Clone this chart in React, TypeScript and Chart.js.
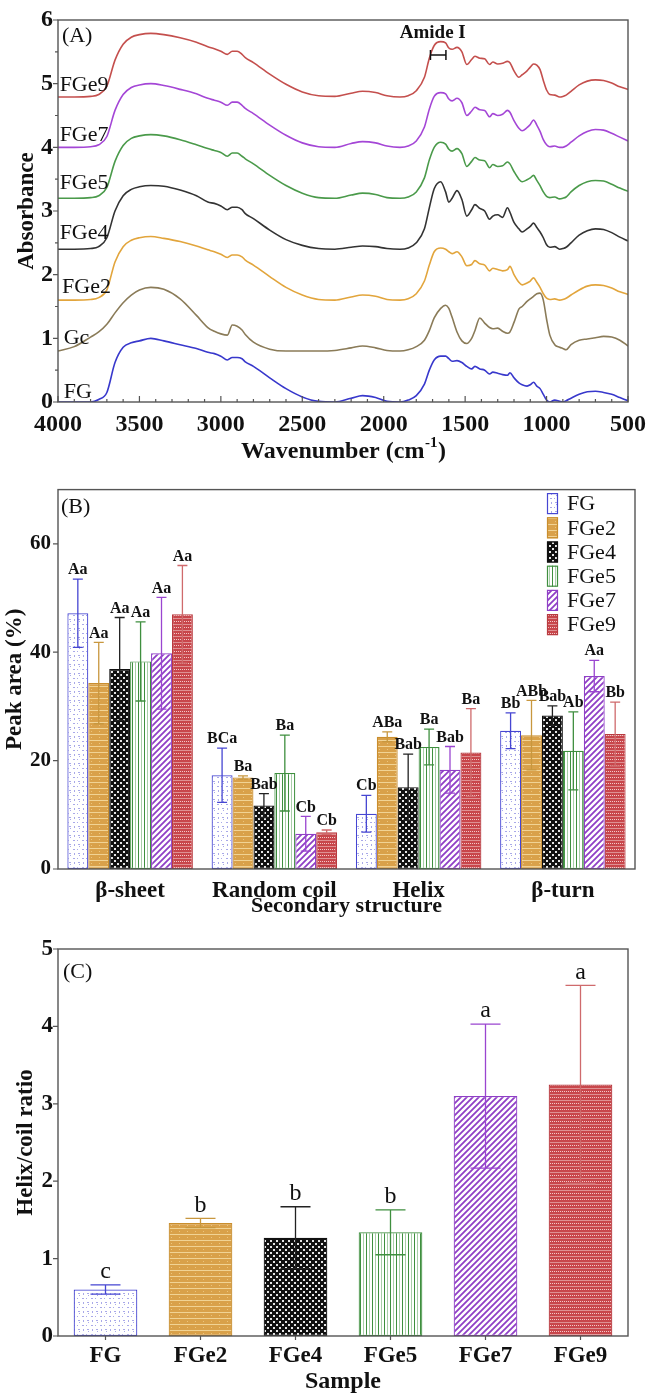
import React, { useEffect, useRef } from 'react';
import { Chart, registerables } from 'chart.js';

Chart.register(...registerables);

const FONT = "'Liberation Serif', 'Times New Roman', serif";

// ---------------- Panel A: FTIR spectra ----------------
const wavenumbers = [
  4000, 3900, 3800, 3750, 3700, 3650, 3600, 3550, 3500, 3430,
  3350, 3250, 3150, 3080, 3040, 3000, 2960, 2930, 2900, 2870,
  2850, 2800, 2700, 2600, 2500, 2400, 2300, 2200, 2130, 2050,
  1980, 1900, 1850, 1800, 1750, 1720, 1690, 1650, 1620, 1600,
  1580, 1550, 1520, 1490, 1460, 1440, 1410, 1380, 1350, 1330,
  1300, 1270, 1240, 1225, 1200, 1170, 1150, 1120, 1100, 1080,
  1060, 1040, 1020, 1000, 980, 950, 920, 900, 880, 850,
  800, 750, 700, 650, 600, 550, 500,
];

const absFG = [
  0.00, 0.00, 0.00, 0.04, 0.15, 0.62, 0.86, 0.93, 0.96, 1.00,
  0.96, 0.90, 0.84, 0.78, 0.76, 0.72, 0.66, 0.70, 0.70, 0.68,
  0.63, 0.56, 0.38, 0.21, 0.08, 0.01, 0.00, 0.06, 0.10, 0.07,
  0.01, 0.00, 0.03, 0.10, 0.28, 0.50, 0.66, 0.72, 0.72, 0.68,
  0.64, 0.65, 0.62, 0.56, 0.52, 0.56, 0.52, 0.50, 0.44, 0.47,
  0.45, 0.43, 0.42, 0.46, 0.38, 0.30, 0.27, 0.25, 0.27, 0.31,
  0.25, 0.21, 0.12, 0.03, 0.00, 0.03, 0.01, 0.00, 0.02, 0.06,
  0.12, 0.16, 0.17, 0.15, 0.12, 0.07, 0.02,
];
const absGc = [
  0.80, 0.87, 1.02, 1.10, 1.22, 1.40, 1.56, 1.68, 1.76, 1.80,
  1.77, 1.62, 1.36, 1.17, 1.11, 1.07, 1.05, 1.21, 1.19, 1.13,
  1.06, 0.94, 0.83, 0.80, 0.80, 0.80, 0.81, 0.85, 0.88, 0.85,
  0.81, 0.80, 0.82, 0.87, 0.97, 1.12, 1.32, 1.47, 1.52, 1.47,
  1.33, 1.10, 0.96, 0.92, 1.00, 1.12, 1.32, 1.24, 1.17, 1.15,
  1.16, 1.11, 1.08, 1.10, 1.25, 1.46, 1.50, 1.58, 1.62, 1.66,
  1.70, 1.71, 1.60, 1.30, 1.05, 0.90, 0.86, 0.84, 0.82, 0.90,
  0.97, 0.99, 1.01, 1.03, 1.02, 0.97, 0.88,
];
const absFGe2 = [
  1.60, 1.60, 1.61, 1.64, 1.76, 2.20, 2.44, 2.54, 2.58, 2.60,
  2.57, 2.52, 2.45, 2.39, 2.36, 2.32, 2.27, 2.31, 2.31, 2.28,
  2.23, 2.15, 1.97, 1.80, 1.68, 1.61, 1.60, 1.65, 1.68, 1.66,
  1.61, 1.60, 1.62, 1.70, 1.90, 2.15, 2.36, 2.42, 2.40, 2.36,
  2.33, 2.36, 2.28, 2.14, 2.16, 2.22, 2.17, 2.15, 2.06, 2.10,
  2.08, 2.06, 2.08, 2.13, 2.00, 1.88, 1.84, 1.87, 1.90, 1.95,
  1.88, 1.80, 1.70, 1.63, 1.61, 1.62, 1.60, 1.61, 1.63, 1.68,
  1.76, 1.82, 1.84, 1.83, 1.79, 1.73, 1.69,
];
const absFGe4 = [
  2.40, 2.40, 2.41, 2.44, 2.58, 3.00, 3.24, 3.34, 3.38, 3.40,
  3.39, 3.33, 3.24, 3.14, 3.12, 3.08, 3.02, 3.06, 3.06, 3.02,
  2.96, 2.88, 2.70, 2.55, 2.46, 2.41, 2.40, 2.43, 2.45, 2.44,
  2.41, 2.40, 2.42, 2.50, 2.72, 3.05, 3.35, 3.46, 3.30, 3.14,
  3.20, 3.32, 3.18, 2.92, 3.02, 3.10, 3.04, 3.00, 2.87, 2.92,
  2.94, 2.90, 3.05, 2.98, 2.82, 2.72, 2.67, 2.72, 2.76, 2.81,
  2.74, 2.67, 2.58, 2.47, 2.43, 2.44, 2.40, 2.41, 2.43, 2.50,
  2.62, 2.69, 2.72, 2.71, 2.66, 2.59, 2.53,
];
const absFGe5 = [
  3.20, 3.20, 3.21, 3.24, 3.37, 3.78, 4.03, 4.14, 4.18, 4.20,
  4.18, 4.12, 4.04, 3.98, 3.95, 3.92, 3.86, 3.91, 3.91, 3.86,
  3.82, 3.74, 3.56, 3.40, 3.28, 3.21, 3.20, 3.25, 3.28, 3.26,
  3.21, 3.20, 3.22, 3.30, 3.52, 3.80, 4.00, 4.08, 4.05, 3.97,
  3.94, 3.98, 3.90, 3.70, 3.78, 3.84, 3.80, 3.79, 3.68, 3.73,
  3.70, 3.71, 3.77, 3.74, 3.62, 3.50, 3.46, 3.49, 3.52, 3.56,
  3.48, 3.40, 3.30, 3.23, 3.21, 3.22, 3.19, 3.20, 3.22, 3.30,
  3.40, 3.46, 3.48, 3.47, 3.42, 3.36, 3.31,
];
const absFGe7 = [
  4.00, 4.00, 4.01, 4.04, 4.17, 4.58, 4.83, 4.94, 4.98, 5.00,
  4.97, 4.91, 4.84, 4.77, 4.74, 4.71, 4.66, 4.71, 4.71, 4.66,
  4.61, 4.53, 4.35, 4.19, 4.07, 4.01, 4.00, 4.06, 4.09, 4.07,
  4.02, 4.00, 4.02, 4.10, 4.32, 4.60, 4.80, 4.86, 4.84, 4.76,
  4.73, 4.77, 4.70, 4.50, 4.57, 4.63, 4.59, 4.58, 4.48, 4.53,
  4.50, 4.52, 4.58, 4.55, 4.42, 4.30, 4.26, 4.31, 4.36, 4.43,
  4.35, 4.25, 4.12, 4.04, 4.01, 4.02, 4.00, 4.00, 4.02, 4.08,
  4.18, 4.25, 4.28, 4.27, 4.22, 4.16, 4.10,
];
const absFGe9 = [
  4.79, 4.79, 4.80, 4.83, 4.96, 5.37, 5.62, 5.73, 5.77, 5.79,
  5.77, 5.72, 5.65, 5.58, 5.55, 5.51, 5.46, 5.51, 5.51, 5.46,
  5.41, 5.33, 5.15, 4.99, 4.87, 4.81, 4.80, 4.85, 4.88, 4.86,
  4.81, 4.79, 4.81, 4.89, 5.10, 5.40, 5.60, 5.66, 5.64, 5.56,
  5.54, 5.57, 5.50, 5.30, 5.38, 5.43, 5.40, 5.39, 5.30, 5.34,
  5.31, 5.32, 5.35, 5.33, 5.20, 5.10, 5.14, 5.20, 5.26, 5.31,
  5.29, 5.22, 5.05, 4.90, 4.83, 4.82, 4.79, 4.80, 4.82, 4.88,
  4.98, 5.04, 5.06, 5.05, 5.01, 4.95, 4.91,
];

const spectrumNames = ['FG', 'Gc', 'FGe2', 'FGe4', 'FGe5', 'FGe7', 'FGe9'];
const spectrumValues = [absFG, absGc, absFGe2, absFGe4, absFGe5, absFGe7, absFGe9];
const spectrumColors = ['#3838cc', '#8a7b58', '#e2a53c', '#333333', '#4a9a4a', '#a446d6', '#c44f4d'];
// label anchors in data units (wavenumber, absorbance)
const spectrumLabelAnchors = [
  [3965, 0.15], [3965, 1.0], [3975, 1.81], [3990, 2.65], [3990, 3.43], [3990, 4.19], [3990, 4.98],
];
const xMajorA = [500, 1000, 1500, 2000, 2500, 3000, 3500, 4000];

// ---------------- Panel B: secondary structure ----------------
const structureCategories = ['β-sheet', 'Random coil', 'Helix', 'β-turn'];
const sampleNames = ['FG', 'FGe2', 'FGe4', 'FGe5', 'FGe7', 'FGe9'];
const peakFG = [47.2, 17.3, 10.2, 25.5];
const peakFGe2 = [34.3, 16.9, 24.4, 24.7];
const peakFGe4 = [36.9, 11.7, 15.1, 28.3];
const peakFGe5 = [38.3, 17.7, 22.5, 21.8];
const peakFGe7 = [39.8, 6.5, 18.3, 35.6];
const peakFGe9 = [47.0, 6.8, 21.5, 24.9];
const errFG = [6.3, 5.0, 3.4, 3.3];
const errFGe2 = [7.5, 0.3, 0.9, 6.4];
const errFGe4 = [9.5, 2.2, 6.1, 1.8];
const errFGe5 = [7.3, 7.0, 3.3, 7.2];
const errFGe7 = [10.3, 3.2, 4.3, 2.9];
const errFGe9 = [9.0, 0.4, 8.1, 5.9];
const lettersFG = ['Aa', 'BCa', 'Cb', 'Bb'];
const lettersFGe2 = ['Aa', 'Ba', 'ABa', 'ABb'];
const lettersFGe4 = ['Aa', 'Bab', 'Bab', 'Bab'];
const lettersFGe5 = ['Aa', 'Ba', 'Ba', 'Ab'];
const lettersFGe7 = ['Aa', 'Cb', 'Bab', 'Aa'];
const lettersFGe9 = ['Aa', 'Cb', 'Ba', 'Bb'];
const yTicksB = [0, 20, 40, 60];

// ---------------- Panel C: helix/coil ratio ----------------
const ratioValues = [0.60, 1.46, 1.27, 1.34, 3.10, 3.25];
const ratioErr = [0.06, 0.06, 0.40, 0.29, 0.93, 1.28];
const ratioLetters = ['c', 'b', 'b', 'b', 'a', 'a'];

// ---------------- styles ----------------
const sampleBorder = ['#4646d2', '#c98e2e', '#111111', '#3f8f3f', '#8f3fc6', '#b83b40'];
const sampleErrColor = ['#4646d2', '#c8973e', '#222222', '#3f8f3f', '#9a45d0', '#cf6a6c'];

function makePattern(name: string): any {
  const c = document.createElement('canvas');
  const g = c.getContext('2d') as CanvasRenderingContext2D;
  if (name === 'FG') {
    c.width = 9; c.height = 9;
    g.fillStyle = '#ffffff'; g.fillRect(0, 0, 9, 9);
    g.fillStyle = '#a9a9e8';
    g.fillRect(1, 1, 2, 1); g.fillRect(5, 1, 1, 1); g.fillRect(2, 5, 1, 2); g.fillRect(6, 5, 2, 1); g.fillRect(7, 7, 1, 1);
  } else if (name === 'FGe2') {
    c.width = 8; c.height = 6;
    g.fillStyle = '#d9a14a'; g.fillRect(0, 0, 8, 6);
    g.fillStyle = '#f1d394'; g.fillRect(0, 0, 8, 1);
    g.fillStyle = '#ecc47c'; g.fillRect(3, 3, 1, 1);
  } else if (name === 'FGe4') {
    c.width = 6; c.height = 6;
    g.fillStyle = '#111111'; g.fillRect(0, 0, 6, 6);
    g.fillStyle = '#e6e6e6'; g.fillRect(0, 0, 2, 2); g.fillRect(3, 3, 2, 2);
  } else if (name === 'FGe5') {
    c.width = 6; c.height = 2;
    g.fillStyle = '#ffffff'; g.fillRect(0, 0, 6, 2);
    g.fillStyle = '#3f8f3f'; g.fillRect(0, 0, 1, 2);
    g.fillStyle = '#a9cfa9'; g.fillRect(3, 0, 1, 2);
  } else if (name === 'FGe7') {
    c.width = 6; c.height = 6;
    g.fillStyle = '#ffffff'; g.fillRect(0, 0, 6, 6);
    g.strokeStyle = '#8f3fc6'; g.lineWidth = 1.8;
    g.beginPath();
    g.moveTo(-1, 7); g.lineTo(7, -1);
    g.moveTo(-4, 4); g.lineTo(4, -4);
    g.moveTo(2, 10); g.lineTo(10, 2);
    g.stroke();
  } else {
    c.width = 6; c.height = 6;
    g.fillStyle = '#c8464b'; g.fillRect(0, 0, 6, 6);
    g.fillStyle = '#f3c9c9'; g.fillRect(0, 1, 1, 1); g.fillRect(2, 1, 1, 1); g.fillRect(4, 1, 1, 1);
    g.fillStyle = '#df9092'; g.fillRect(0, 4, 6, 1);
  }
  return g.createPattern(c, 'repeat');
}

function range(a: number, b: number, step: number) {
  const out: number[] = [];
  for (let v = a; v <= b + 1e-9; v += step) out.push(Math.round(v * 1000) / 1000);
  return out;
}

function framePlugin(cfg: any) {
  return {
    id: 'frameTicks',
    afterDraw(chart: any) {
      const { ctx, chartArea: a } = chart;
      const xs = chart.scales.x;
      const ys = chart.scales.y;
      ctx.save();
      ctx.strokeStyle = '#555555';
      ctx.lineWidth = 1.4;
      ctx.strokeRect(a.left, a.top, a.right - a.left, a.bottom - a.top);
      ctx.lineWidth = 1.2;
      ctx.beginPath();
      (cfg.xMajor || []).forEach((v: number) => {
        const p = xs.getPixelForValue(v);
        ctx.moveTo(p, a.bottom); ctx.lineTo(p, a.bottom + cfg.xDir * cfg.xMajorLen);
      });
      (cfg.xMinor || []).forEach((v: number) => {
        const p = xs.getPixelForValue(v);
        ctx.moveTo(p, a.bottom); ctx.lineTo(p, a.bottom + cfg.xDir * cfg.xMinorLen);
      });
      (cfg.yMajor || []).forEach((v: number) => {
        const p = ys.getPixelForValue(v);
        ctx.moveTo(a.left, p); ctx.lineTo(a.left - cfg.yMajorLen, p);
      });
      (cfg.yMinor || []).forEach((v: number) => {
        const p = ys.getPixelForValue(v);
        ctx.moveTo(a.left, p); ctx.lineTo(a.left - cfg.yMinorLen, p);
      });
      ctx.stroke();
      ctx.restore();
    },
  };
}

function errorPlugin(errs: number[][], letters: string[][], colorOf: (i: number, j: number) => string, capHalf: number, letterFont: string) {
  return {
    id: 'errorBars',
    afterDatasetsDraw(chart: any) {
      const { ctx } = chart;
      const ys = chart.scales.y;
      ctx.save();
      chart.data.datasets.forEach((ds: any, i: number) => {
        const meta = chart.getDatasetMeta(i);
        meta.data.forEach((el: any, j: number) => {
          const v = ds.data[j];
          const e = errs[i][j];
          const top = ys.getPixelForValue(v + e);
          const bot = ys.getPixelForValue(v - e);
          ctx.strokeStyle = colorOf(i, j);
          ctx.lineWidth = 1.3;
          ctx.beginPath();
          ctx.moveTo(el.x, top); ctx.lineTo(el.x, bot);
          ctx.moveTo(el.x - capHalf, top); ctx.lineTo(el.x + capHalf, top);
          ctx.moveTo(el.x - capHalf, bot); ctx.lineTo(el.x + capHalf, bot);
          ctx.stroke();
          ctx.fillStyle = '#111111';
          ctx.font = letterFont;
          ctx.textAlign = 'center';
          ctx.textBaseline = 'bottom';
          ctx.fillText(letters[i][j], el.x, top - 1);
        });
      });
      ctx.restore();
    },
  };
}

const spectraAnnotations = {
  id: 'spectraAnnotations',
  afterDraw(chart: any) {
    const { ctx, chartArea: a } = chart;
    const xs = chart.scales.x;
    const ys = chart.scales.y;
    ctx.save();
    ctx.fillStyle = '#111111';
    ctx.textBaseline = 'middle';
    ctx.textAlign = 'left';
    ctx.font = `22px ${FONT}`;
    spectrumNames.forEach((n, i) => {
      const [w, v] = spectrumLabelAnchors[i];
      ctx.fillText(n, xs.getPixelForValue(w), ys.getPixelForValue(v));
    });
    ctx.fillText('(A)', xs.getPixelForValue(3976), ys.getPixelForValue(5.75));
    // Amide I bracket
    const x1 = xs.getPixelForValue(1713);
    const x2 = xs.getPixelForValue(1618);
    const yb = ys.getPixelForValue(5.45);
    ctx.strokeStyle = '#111111';
    ctx.lineWidth = 1.5;
    ctx.beginPath();
    ctx.moveTo(x1, yb); ctx.lineTo(x2, yb);
    ctx.moveTo(x1, yb - 5); ctx.lineTo(x1, yb + 5);
    ctx.moveTo(x2, yb - 5); ctx.lineTo(x2, yb + 5);
    ctx.stroke();
    ctx.textAlign = 'center';
    ctx.font = `bold 19px ${FONT}`;
    ctx.fillText('Amide I', xs.getPixelForValue(1699), ys.getPixelForValue(5.8));
    // x-axis title with superscript
    const cx = (a.left + a.right) / 2;
    const cy = 452;
    ctx.font = `bold 24px ${FONT}`;
    const t1 = 'Wavenumber (cm';
    const w1 = ctx.measureText(t1).width;
    const w3 = ctx.measureText(')').width;
    ctx.font = `bold 15px ${FONT}`;
    const w2 = ctx.measureText('-1').width;
    const sx = cx - (w1 + w2 + w3) / 2;
    ctx.textAlign = 'left';
    ctx.font = `bold 24px ${FONT}`;
    ctx.fillText(t1, sx, cy);
    ctx.fillText(')', sx + w1 + w2 + 1, cy);
    ctx.font = `bold 15px ${FONT}`;
    ctx.fillText('-1', sx + w1 + 0.5, cy - 9);
    ctx.restore();
  },
};

const tickFont = (size: number) => ({ family: FONT, size, weight: 'bold' as const });

export default function App() {
  const refA = useRef<HTMLCanvasElement>(null);
  const refB = useRef<HTMLCanvasElement>(null);
  const refC = useRef<HTMLCanvasElement>(null);

  useEffect(() => {
    Chart.defaults.font.family = FONT;
    const patterns = sampleNames.map((n) => makePattern(n));
    const charts: Chart[] = [];

    // ---- Panel A ----
    charts.push(new Chart(refA.current as HTMLCanvasElement, {
      type: 'line',
      data: {
        datasets: spectrumNames.map((n, i) => ({
          label: n,
          data: wavenumbers.map((w, k) => ({ x: w, y: spectrumValues[i][k] })),
          borderColor: spectrumColors[i],
          borderWidth: 1.6,
          pointRadius: 0,
          fill: false,
          cubicInterpolationMode: 'monotone',
        })),
      } as any,
      options: {
        responsive: false,
        animation: false,
        layout: { padding: { left: 0, right: 21, top: 20, bottom: 0 } },
        plugins: { legend: { display: false }, tooltip: { enabled: false } },
        scales: {
          x: {
            type: 'linear', min: 500, max: 4000, reverse: true,
            afterFit: (s: any) => { s.height = 68; },
            grid: { display: false, drawTicks: false },
            border: { display: false },
            ticks: { stepSize: 500, autoSkip: false, maxRotation: 0, padding: 8, color: '#111', font: tickFont(24), callback: (v: any) => String(v) },
          },
          y: {
            min: 0, max: 6,
            afterFit: (s: any) => { s.width = 58; },
            grid: { display: false, drawTicks: false },
            border: { display: false },
            ticks: { stepSize: 1, padding: 5, color: '#111', font: tickFont(24), callback: (v: any) => String(v) },
            title: { display: true, text: 'Absorbance', color: '#111', font: tickFont(23), padding: { top: 13, bottom: 0 } },
          },
        },
      } as any,
      plugins: [
        framePlugin({ xMajor: xMajorA, xMinor: range(500, 4000, 100), xDir: -1, xMajorLen: 6, xMinorLen: 3, yMajor: range(0, 6, 1), yMinor: range(0.5, 5.5, 1), yMajorLen: 5, yMinorLen: 3 }),
        spectraAnnotations,
      ],
    }));

    // ---- Panel B ----
    const peaks = [peakFG, peakFGe2, peakFGe4, peakFGe5, peakFGe7, peakFGe9];
    const errsB = [errFG, errFGe2, errFGe4, errFGe5, errFGe7, errFGe9];
    const lettersB = [lettersFG, lettersFGe2, lettersFGe4, lettersFGe5, lettersFGe7, lettersFGe9];
    const legendB = {
      id: 'legendB',
      afterDraw(chart: any) {
        const { ctx, chartArea: a } = chart;
        ctx.save();
        chart.data.datasets.forEach((ds: any, i: number) => {
          const cy = a.top + 14 + i * 24.2;
          const bx = a.right - 88;
          ctx.fillStyle = ds.backgroundColor;
          ctx.fillRect(bx, cy - 10.5, 11, 21);
          ctx.strokeStyle = ds.borderColor;
          ctx.lineWidth = 1.2;
          ctx.strokeRect(bx + 0.5, cy - 10, 10, 20);
          ctx.fillStyle = '#111111';
          ctx.font = `22px ${FONT}`;
          ctx.textAlign = 'left';
          ctx.textBaseline = 'middle';
          ctx.fillText(ds.label, bx + 20, cy + 1);
        });
        ctx.font = `22px ${FONT}`;
        ctx.fillText('(B)', a.left + 3, a.top + 18);
        ctx.restore();
      },
    };
    charts.push(new Chart(refB.current as HTMLCanvasElement, {
      type: 'bar',
      data: {
        labels: structureCategories,
        datasets: sampleNames.map((n, i) => ({
          label: n,
          data: peaks[i],
          backgroundColor: patterns[i],
          borderColor: sampleBorder[i],
          borderWidth: 1.2,
          borderSkipped: false,
          categoryPercentage: 0.87,
          barPercentage: 1.0,
        })),
      } as any,
      options: {
        responsive: false,
        animation: false,
        layout: { padding: { left: 0, right: 19, top: 16, bottom: 0 } },
        plugins: { legend: { display: false }, tooltip: { enabled: false } },
        scales: {
          x: {
            afterFit: (s: any) => { s.height = 61; },
            grid: { display: false, drawTicks: false },
            border: { display: false },
            ticks: { padding: 8, color: '#111', font: tickFont(23), maxRotation: 0 },
            title: { display: true, text: 'Secondary structure', color: '#111', font: tickFont(22), padding: { top: 0, bottom: 10 } },
          },
          y: {
            min: 0, max: 70,
            afterFit: (s: any) => { s.width = 58; },
            afterBuildTicks: (s: any) => { s.ticks = yTicksB.map((v) => ({ value: v })); },
            grid: { display: false, drawTicks: false },
            border: { display: false },
            ticks: { padding: 7, color: '#111', font: tickFont(21), callback: (v: any) => String(v) },
            title: { display: true, text: 'Peak area (%)', color: '#111', font: tickFont(23), padding: { top: 1, bottom: 0 } },
          },
        },
      } as any,
      plugins: [
        errorPlugin(errsB, lettersB, (i) => sampleErrColor[i], 5, `bold 16px ${FONT}`),
        framePlugin({ yMajor: yTicksB, yMajorLen: 5, xDir: 1 }),
        legendB,
      ],
    }));

    // ---- Panel C ----
    const labelC = {
      id: 'labelC',
      afterDraw(chart: any) {
        const { ctx, chartArea: a } = chart;
        ctx.save();
        ctx.fillStyle = '#111111';
        ctx.font = `22px ${FONT}`;
        ctx.textAlign = 'left';
        ctx.textBaseline = 'middle';
        ctx.fillText('(C)', a.left + 5, a.top + 23);
        ctx.restore();
      },
    };
    charts.push(new Chart(refC.current as HTMLCanvasElement, {
      type: 'bar',
      data: {
        labels: sampleNames,
        datasets: [{
          label: 'Helix/coil ratio',
          data: ratioValues,
          backgroundColor: patterns,
          borderColor: sampleBorder,
          borderWidth: 1.2,
          borderSkipped: false,
          categoryPercentage: 1.0,
          barPercentage: 0.67,
        }],
      } as any,
      options: {
        responsive: false,
        animation: false,
        layout: { padding: { left: 0, right: 26, top: 39, bottom: 0 } },
        plugins: { legend: { display: false }, tooltip: { enabled: false } },
        scales: {
          x: {
            afterFit: (s: any) => { s.height = 60; },
            grid: { display: false, drawTicks: false },
            border: { display: false },
            ticks: { padding: 6, color: '#111', font: tickFont(23), maxRotation: 0 },
            title: { display: true, text: 'Sample', color: '#111', font: tickFont(24), padding: { top: 0, bottom: 0 } },
          },
          y: {
            min: 0, max: 5,
            afterFit: (s: any) => { s.width = 58; },
            grid: { display: false, drawTicks: false },
            border: { display: false },
            ticks: { stepSize: 1, padding: 5, color: '#111', font: tickFont(23), callback: (v: any) => String(v) },
            title: { display: true, text: 'Helix/coil ratio', color: '#111', font: tickFont(23), padding: { top: 12, bottom: 0 } },
          },
        },
      } as any,
      plugins: [
        errorPlugin([ratioErr], [ratioLetters], (_i, j) => sampleErrColor[j], 15, `24px ${FONT}`),
        framePlugin({ xMajor: [0, 1, 2, 3, 4, 5], xDir: 1, xMajorLen: 4, yMajor: range(0, 5, 1), yMajorLen: 5 }),
        labelC,
      ],
    }));

    return () => charts.forEach((c) => c.destroy());
  }, []);

  return (
    <div style={{ position: 'absolute', left: 0, top: 0, width: 654, height: 1396, background: '#ffffff' }}>
      <canvas ref={refA} width={654} height={470} style={{ position: 'absolute', left: 0, top: 0 }} />
      <canvas ref={refB} width={654} height={460} style={{ position: 'absolute', left: 0, top: 470 }} />
      <canvas ref={refC} width={654} height={486} style={{ position: 'absolute', left: 0, top: 910 }} />
    </div>
  );
}
